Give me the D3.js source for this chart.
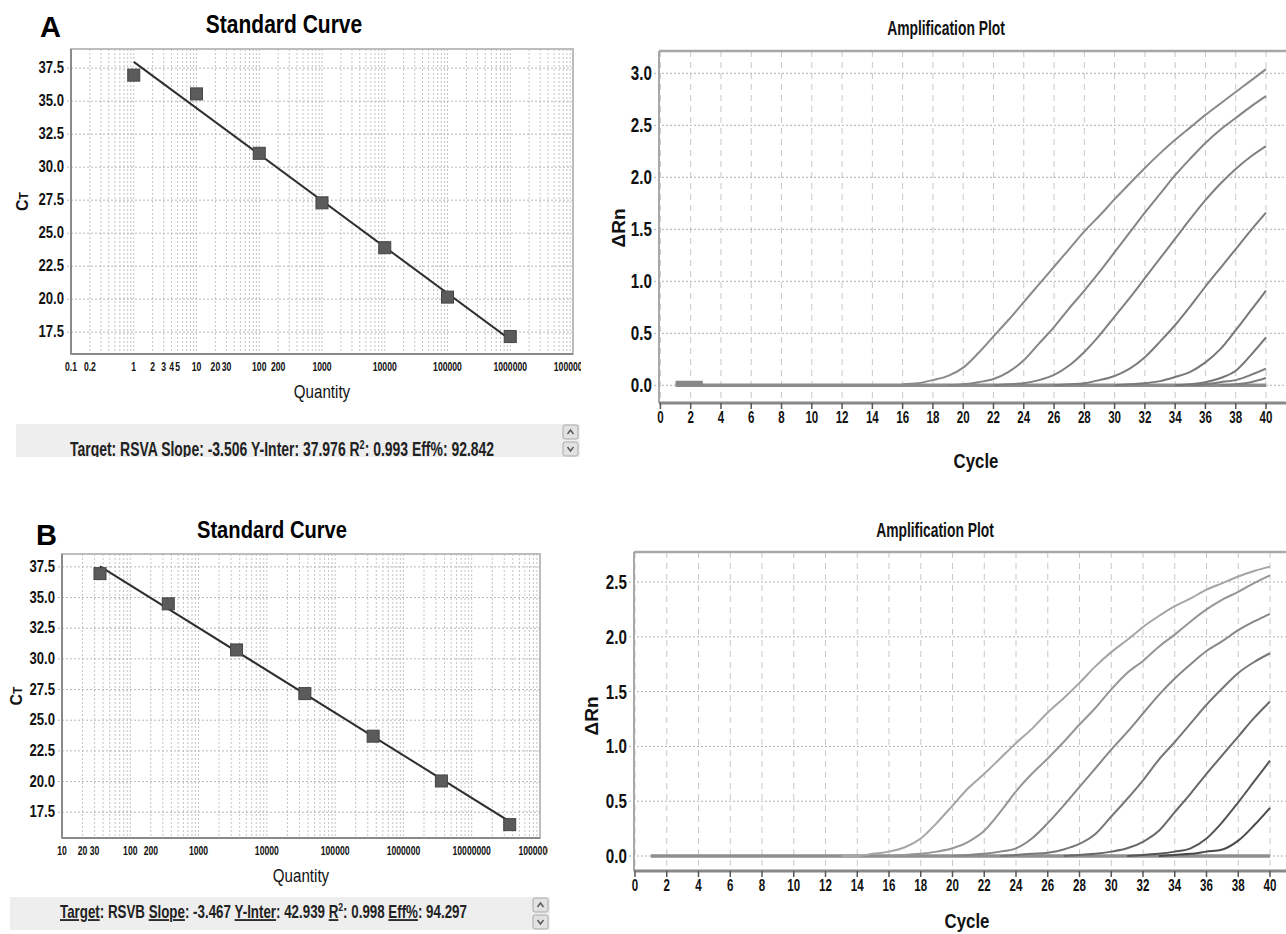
<!DOCTYPE html>
<html>
<head>
<meta charset="utf-8">
<script src="https://cdn.jsdelivr.net/npm/d3@7"></script>
<style>
  body { margin: 0; background: #fff; }
  svg { display: block; }
</style>
</head>
<body>
<svg id="fig" width="1286" height="934"></svg>
<script>
const FONT = '"Liberation Sans", Arial, sans-serif'

// ---- standard curve data (A = RSVA, B = RSVB)
const quantityA = [1, 10, 100, 1000, 10000, 100000, 1000000]
const ctA = [36.97, 35.55, 31.05, 27.3, 23.9, 20.16, 17.17]
const fitA = [-3.506, 37.976] // slope, y-intercept
const qtyLabelsA = ['0.1', '0.2', '1', '2', '3', '4', '5', '10', '20', '30', '100', '200', '1000', '10000', '100000', '1000000', '10000000']

const quantityB = [36, 360, 3600, 36000, 360000, 3600000, 36000000]
const ctB = [36.95, 34.49, 30.73, 27.17, 23.7, 20.05, 16.49]
const fitB = [-3.467, 42.939]
const qtyLabelsB = ['10', '20', '30', '100', '200', '1000', '10000', '100000', '1000000', '10000000', '100000000']

const ctTicks = [17.5, 20.0, 22.5, 25.0, 27.5, 30.0, 32.5, 35.0, 37.5]

const statsA = ['Target', 'RSVA', 'Slope', '-3.506', 'Y-Inter', '37.976', '0.993', 'Eff%', '92.842']
const statsB = ['Target', 'RSVB', 'Slope', '-3.467', 'Y-Inter', '42.939', '0.998', 'Eff%', '94.297']

// ---- amplification curves: first cycle of each curve, then dRn per cycle
const cycleTicks = [0, 2, 4, 6, 8, 10, 12, 14, 16, 18, 20, 22, 24, 26, 28, 30, 32, 34, 36, 38, 40]
const startA = [16, 19, 22, 26, 30, 34, 35, 37]
const ampA1 = [0.01, 0.02, 0.05, 0.09, 0.17, 0.31, 0.47, 0.63, 0.80, 0.97, 1.14, 1.31, 1.48, 1.63, 1.79, 1.94, 2.09, 2.23, 2.36, 2.48, 2.60, 2.71, 2.82, 2.93, 3.04]
const ampA2 = [0.00, 0.01, 0.03, 0.06, 0.13, 0.24, 0.40, 0.56, 0.74, 0.91, 1.09, 1.28, 1.47, 1.66, 1.84, 2.02, 2.18, 2.33, 2.46, 2.57, 2.68, 2.78]
const ampA3 = [0.00, 0.01, 0.02, 0.05, 0.10, 0.19, 0.32, 0.48, 0.66, 0.84, 1.03, 1.22, 1.41, 1.60, 1.78, 1.94, 2.08, 2.20, 2.30]
const ampA4 = [0.00, 0.01, 0.02, 0.05, 0.09, 0.16, 0.27, 0.42, 0.58, 0.76, 0.95, 1.13, 1.31, 1.49, 1.66]
const ampA5 = [0.00, 0.01, 0.02, 0.04, 0.08, 0.13, 0.22, 0.35, 0.53, 0.72, 0.91]
const ampA6 = [0.00, 0.01, 0.03, 0.07, 0.14, 0.29, 0.46]
const ampA7 = [0.00, 0.01, 0.03, 0.05, 0.10, 0.16]
const ampA8 = [0.00, 0.01, 0.03, 0.07]
const bumpA = [[1, 0.02], [2.8, 0.02]] // short raised stretch at the start of run A

const startB = [13, 16, 20, 23, 27, 31, 33]
const ampB1 = [0.00, 0.00, 0.02, 0.04, 0.08, 0.16, 0.30, 0.46, 0.62, 0.75, 0.89, 1.03, 1.16, 1.31, 1.44, 1.58, 1.73, 1.86, 1.97, 2.09, 2.19, 2.28, 2.35, 2.43, 2.49, 2.55, 2.60, 2.64]
const ampB2 = [0.00, 0.01, 0.02, 0.04, 0.07, 0.13, 0.23, 0.40, 0.59, 0.75, 0.89, 1.04, 1.20, 1.35, 1.52, 1.67, 1.78, 1.91, 2.02, 2.14, 2.25, 2.34, 2.41, 2.49, 2.56]
const ampB3 = [0.00, 0.01, 0.02, 0.04, 0.07, 0.16, 0.30, 0.46, 0.63, 0.80, 0.97, 1.13, 1.30, 1.47, 1.62, 1.75, 1.87, 1.96, 2.06, 2.14, 2.21]
const ampB4 = [0.00, 0.01, 0.02, 0.03, 0.06, 0.11, 0.20, 0.36, 0.52, 0.69, 0.88, 1.04, 1.21, 1.38, 1.53, 1.67, 1.77, 1.85]
const ampB5 = [0.00, 0.01, 0.02, 0.04, 0.07, 0.13, 0.23, 0.40, 0.57, 0.75, 0.92, 1.09, 1.26, 1.41]
const ampB6 = [0.00, 0.01, 0.02, 0.04, 0.07, 0.16, 0.31, 0.49, 0.68, 0.87]
const ampB7 = [0.00, 0.01, 0.02, 0.04, 0.06, 0.14, 0.28, 0.44]

const rnTicksA = [0.0, 0.5, 1.0, 1.5, 2.0, 2.5, 3.0]
const rnTicksB = [0.0, 0.5, 1.0, 1.5, 2.0, 2.5]

const svg = d3.select('#fig')

// condensed look: draw text at origin and squeeze it horizontally
const squeeze = (px, py, sx) => `translate(${px},${py}) scale(${sx},1)`

function standardCurve (o) {
  const g = svg.append('g')
  const x = d3.scaleLog().domain(o.xDomain).range([o.left, o.right])
  const y = d3.scaleLinear().domain(o.yDomain).range([o.bottom, o.top])

  // grid: every log minor step and every Ct tick
  g.append('g').selectAll('line')
    .data(x.ticks())
    .join('line')
    .attr('x1', d => x(d)).attr('x2', d => x(d))
    .attr('y1', o.top).attr('y2', o.bottom)
    .attr('stroke', '#c4c4c4')
    .attr('stroke-dasharray', '2,2')
  g.append('g').selectAll('line')
    .data(ctTicks)
    .join('line')
    .attr('x1', o.left - 4).attr('x2', o.right)
    .attr('y1', d => y(d)).attr('y2', d => y(d))
    .attr('stroke', '#b8b8b8')
    .attr('stroke-dasharray', '2,2')

  g.append('rect')
    .attr('x', o.left).attr('y', o.top)
    .attr('width', o.right - o.left).attr('height', o.bottom - o.top)
    .attr('fill', 'none').attr('stroke', '#bdbdbd').attr('stroke-width', 2)
  g.append('line')
    .attr('x1', o.left).attr('x2', o.left).attr('y1', o.top).attr('y2', o.bottom)
    .attr('stroke', '#8a8a8a').attr('stroke-width', 2)
  g.append('line')
    .attr('x1', o.left).attr('x2', o.right).attr('y1', o.bottom).attr('y2', o.bottom)
    .attr('stroke', '#8a8a8a').attr('stroke-width', 2)

  g.append('g').selectAll('text')
    .data(ctTicks)
    .join('text')
    .attr('transform', d => squeeze(o.left - 7, y(d) + 5, 0.82))
    .attr('text-anchor', 'end')
    .attr('font-family', FONT).attr('font-weight', 'bold').attr('font-size', 16)
    .attr('fill', '#111')
    .text(d3.format('.1f'))

  const clipId = 'clip' + o.id
  svg.append('clipPath').attr('id', clipId)
    .append('rect').attr('x', 0).attr('y', 0).attr('width', o.clipX).attr('height', 934)
  g.append('g').attr('clip-path', `url(#${clipId})`)
    .selectAll('text')
    .data(o.labels)
    .join('text')
    .attr('transform', d => squeeze(x(+d), o.bottom + 17, 0.72))
    .attr('text-anchor', 'middle')
    .attr('font-family', FONT).attr('font-weight', 'bold').attr('font-size', 12)
    .attr('fill', '#111')
    .text(d => d)

  // regression line from the first to the last standard
  const q0 = o.qty[0]
  const q1 = o.qty[o.qty.length - 1]
  const fitCt = q => o.fit[1] + o.fit[0] * Math.log10(q)
  g.append('line')
    .attr('x1', x(q0)).attr('y1', y(fitCt(q0)))
    .attr('x2', x(q1)).attr('y2', y(fitCt(q1)))
    .attr('stroke', '#2e2e2e').attr('stroke-width', 2)

  g.append('g').selectAll('rect')
    .data(o.qty.map((q, i) => [q, o.ct[i]]))
    .join('rect')
    .attr('x', d => x(d[0]) - 6).attr('y', d => y(d[1]) - 6)
    .attr('width', 12).attr('height', 12)
    .attr('fill', '#5b5b5b').attr('stroke', '#444').attr('stroke-width', 1)

  g.append('text')
    .attr('x', o.panelX).attr('y', o.panelY)
    .attr('font-family', FONT).attr('font-weight', 'bold').attr('font-size', 29)
    .attr('fill', '#000')
    .text(o.panel)
  g.append('text')
    .attr('transform', squeeze(o.titleX, o.titleY, 0.84))
    .attr('text-anchor', 'middle')
    .attr('font-family', FONT).attr('font-weight', 'bold').attr('font-size', o.titleSize)
    .attr('fill', '#000')
    .text('Standard Curve')
  g.append('text')
    .attr('transform', squeeze((o.left + o.right) / 2, o.bottom + 44, 0.84))
    .attr('text-anchor', 'middle')
    .attr('font-family', FONT).attr('font-size', 18)
    .attr('fill', '#111')
    .text('Quantity')
  const ct = g.append('text')
    .attr('transform', `translate(${o.ctX},${(o.top + o.bottom) / 2}) rotate(-90)`)
    .attr('text-anchor', 'middle')
    .attr('font-family', FONT).attr('font-weight', 'bold').attr('font-size', 16)
    .attr('fill', '#111')
  ct.append('tspan').text('C')
  ct.append('tspan').attr('font-size', 12).text('T')

  // status bar under the plot
  const b = o.bar
  g.append('rect')
    .attr('x', b.x).attr('y', b.y).attr('width', b.w).attr('height', b.h)
    .attr('fill', '#eeeeee')
  const barClip = 'bar' + o.id
  svg.append('clipPath').attr('id', barClip)
    .append('rect').attr('x', b.x).attr('y', b.y).attr('width', b.w).attr('height', b.h)
  const t = g.append('g').attr('clip-path', `url(#${barClip})`)
    .append('text')
    .attr('font-family', FONT).attr('font-weight', 'bold').attr('font-size', b.size)
    .attr('fill', '#222')
  const s = o.stats
  const lab = txt => t.append('tspan').style('text-decoration', b.underline ? 'underline' : 'none').text(txt)
  lab(s[0]); t.append('tspan').text(': ' + s[1] + ' ')
  lab(s[2]); t.append('tspan').text(': ' + s[3] + ' ')
  lab(s[4]); t.append('tspan').text(': ' + s[5] + ' ')
  lab('R'); t.append('tspan').attr('dy', -7).attr('font-size', b.size * 0.65).text('2')
  t.append('tspan').attr('dy', 7).text(': ' + s[6] + ' ')
  lab(s[7]); t.append('tspan').text(': ' + s[8])
  // squeeze the whole line so that it spans the same width as in the reference
  const natural = t.node().getComputedTextLength()
  t.attr('transform', squeeze(b.textX, b.textY, b.textW / natural))

  ;[0, 1].forEach(k => {
    const by = b.y + 1 + k * 17
    g.append('rect')
      .attr('x', b.btnX).attr('y', by).attr('width', 15).attr('height', 14).attr('rx', 2)
      .attr('fill', '#e2e2e2').attr('stroke', '#a9a9a9')
    const cx = b.btnX + 7.5
    const cy = by + 7
    g.append('path')
      .attr('d', k === 0
        ? `M${cx - 3},${cy + 2}L${cx},${cy - 2}L${cx + 3},${cy + 2}`
        : `M${cx - 3},${cy - 2}L${cx},${cy + 2}L${cx + 3},${cy - 2}`)
      .attr('fill', 'none').attr('stroke', '#555').attr('stroke-width', 1.4)
  })
}

function amplificationPlot (o) {
  const g = svg.append('g')
  const x = d3.scaleLinear().domain([0, 40]).range([o.x0, o.x40])
  const y = d3.scaleLinear().domain([0, o.yTicks[o.yTicks.length - 1]]).range([o.y0, o.yMax])

  g.append('g').selectAll('line')
    .data(cycleTicks)
    .join('line')
    .attr('x1', d => x(d)).attr('x2', d => x(d))
    .attr('y1', o.top).attr('y2', o.bottom)
    .attr('stroke', '#c8c8c8')
    .attr('stroke-dasharray', '6,5')
  g.append('g').selectAll('line')
    .data(o.yTicks)
    .join('line')
    .attr('x1', o.left - 5).attr('x2', 1290)
    .attr('y1', d => y(d)).attr('y2', d => y(d))
    .attr('stroke', '#b0b0b0')
    .attr('stroke-dasharray', '2,2')

  g.append('line')
    .attr('x1', o.left).attr('x2', 1290).attr('y1', o.top).attr('y2', o.top)
    .attr('stroke', '#a8a8a8').attr('stroke-width', 2.5)
  g.append('line')
    .attr('x1', o.left).attr('x2', o.left).attr('y1', o.top).attr('y2', o.bottom)
    .attr('stroke', '#a8a8a8').attr('stroke-width', 2)
  g.append('line')
    .attr('x1', o.left).attr('x2', 1290).attr('y1', o.bottom).attr('y2', o.bottom)
    .attr('stroke', '#888').attr('stroke-width', 3)
  g.append('g').selectAll('line')
    .data(cycleTicks)
    .join('line')
    .attr('x1', d => x(d)).attr('x2', d => x(d))
    .attr('y1', o.bottom).attr('y2', o.bottom + 6)
    .attr('stroke', '#555').attr('stroke-width', 1.5)

  // flat baseline (no-template wells)
  g.append('line')
    .attr('x1', x(1)).attr('x2', x(40)).attr('y1', y(0)).attr('y2', y(0))
    .attr('stroke', o.baseColor).attr('stroke-width', 3.5)

  const line = d3.line()
    .x(d => x(d[0])).y(d => y(d[1]))
    .curve(d3.curveMonotoneX)
  if (o.bump) {
    g.append('path')
      .attr('d', line(o.bump))
      .attr('fill', 'none').attr('stroke', '#888').attr('stroke-width', 5)
  }
  g.append('g').selectAll('path')
    .data(o.curves.map((vals, i) => vals.map((v, j) => [o.starts[i] + j, v])))
    .join('path')
    .attr('d', line)
    .attr('fill', 'none')
    .attr('stroke', (d, i) => o.colors[i])
    .attr('stroke-width', 2)

  g.append('g').selectAll('text')
    .data(o.yTicks)
    .join('text')
    .attr('transform', d => squeeze(o.left - 7, y(d) + 7, 0.76))
    .attr('text-anchor', 'end')
    .attr('font-family', FONT).attr('font-weight', 'bold').attr('font-size', 20)
    .attr('fill', '#111')
    .text(d3.format('.1f'))
  g.append('g').selectAll('text')
    .data(cycleTicks)
    .join('text')
    .attr('transform', d => squeeze(x(d), o.bottom + 20, 0.68))
    .attr('text-anchor', 'middle')
    .attr('font-family', FONT).attr('font-weight', 'bold').attr('font-size', 17)
    .attr('fill', '#111')
    .text(d => d)

  g.append('text')
    .attr('transform', squeeze(o.titleX, o.titleY, 0.66))
    .attr('text-anchor', 'middle')
    .attr('font-family', FONT).attr('font-weight', 'bold').attr('font-size', 21)
    .attr('fill', '#111')
    .text('Amplification Plot')
  g.append('text')
    .attr('transform', squeeze(o.cycleX, o.cycleY, 0.8))
    .attr('text-anchor', 'middle')
    .attr('font-family', FONT).attr('font-weight', 'bold').attr('font-size', 21)
    .attr('fill', '#111')
    .text('Cycle')
  g.append('text')
    .attr('transform', `translate(${o.rnX},${o.rnY}) rotate(-90)`)
    .attr('text-anchor', 'middle')
    .attr('font-family', FONT).attr('font-weight', 'bold').attr('font-size', 19)
    .attr('fill', '#111')
    .text('ΔRn')
}

standardCurve({
  id: 'A', panel: 'A', panelX: 40, panelY: 37, titleX: 284, titleY: 33, titleSize: 25,
  left: 71, right: 573, top: 49, bottom: 354,
  xDomain: [0.1, 1e7], yDomain: [15.85, 38.95],
  qty: quantityA, ct: ctA, fit: fitA, labels: qtyLabelsA, clipX: 581,
  ctX: 28, stats: statsA,
  bar: { x: 16, y: 424, w: 564, h: 33, textX: 70, textY: 456, textW: 424, size: 20, underline: false, btnX: 563 }
})

standardCurve({
  id: 'B', panel: 'B', panelX: 36, panelY: 545, titleX: 272, titleY: 538, titleSize: 24,
  left: 62, right: 540, top: 554, bottom: 838,
  xDomain: [10, 1e8], yDomain: [15.4, 38.55],
  qty: quantityB, ct: ctB, fit: fitB, labels: qtyLabelsB, clipX: 548,
  ctX: 22, stats: statsB,
  bar: { x: 10, y: 897, w: 540, h: 33, textX: 60, textY: 918, textW: 407, size: 18, underline: true, btnX: 533 }
})

amplificationPlot({
  left: 659, top: 51, bottom: 403,
  x0: 660.4, x40: 1266, y0: 385.3, yMax: 73.3,
  yTicks: rnTicksA,
  starts: startA,
  curves: [ampA1, ampA2, ampA3, ampA4, ampA5, ampA6, ampA7, ampA8],
  bump: bumpA,
  colors: ['#8a8a8a', '#858585', '#808080', '#7c7c7c', '#787878', '#757575', '#7a7a7a', '#7f7f7f'],
  baseColor: '#8c8c8c',
  titleX: 946, titleY: 35, cycleX: 976, cycleY: 468, rnX: 625, rnY: 228
})

amplificationPlot({
  left: 634, top: 552, bottom: 871,
  x0: 635, x40: 1270, y0: 856, yMax: 582,
  yTicks: rnTicksB,
  starts: startB,
  curves: [ampB1, ampB2, ampB3, ampB4, ampB5, ampB6, ampB7],
  colors: ['#a5a5a5', '#969696', '#878787', '#777', '#686868', '#555', '#4a4a4a'],
  baseColor: '#8f8f8f',
  titleX: 935, titleY: 537, cycleX: 967, cycleY: 928, rnX: 598, rnY: 716
})
</script>
</body>
</html>
